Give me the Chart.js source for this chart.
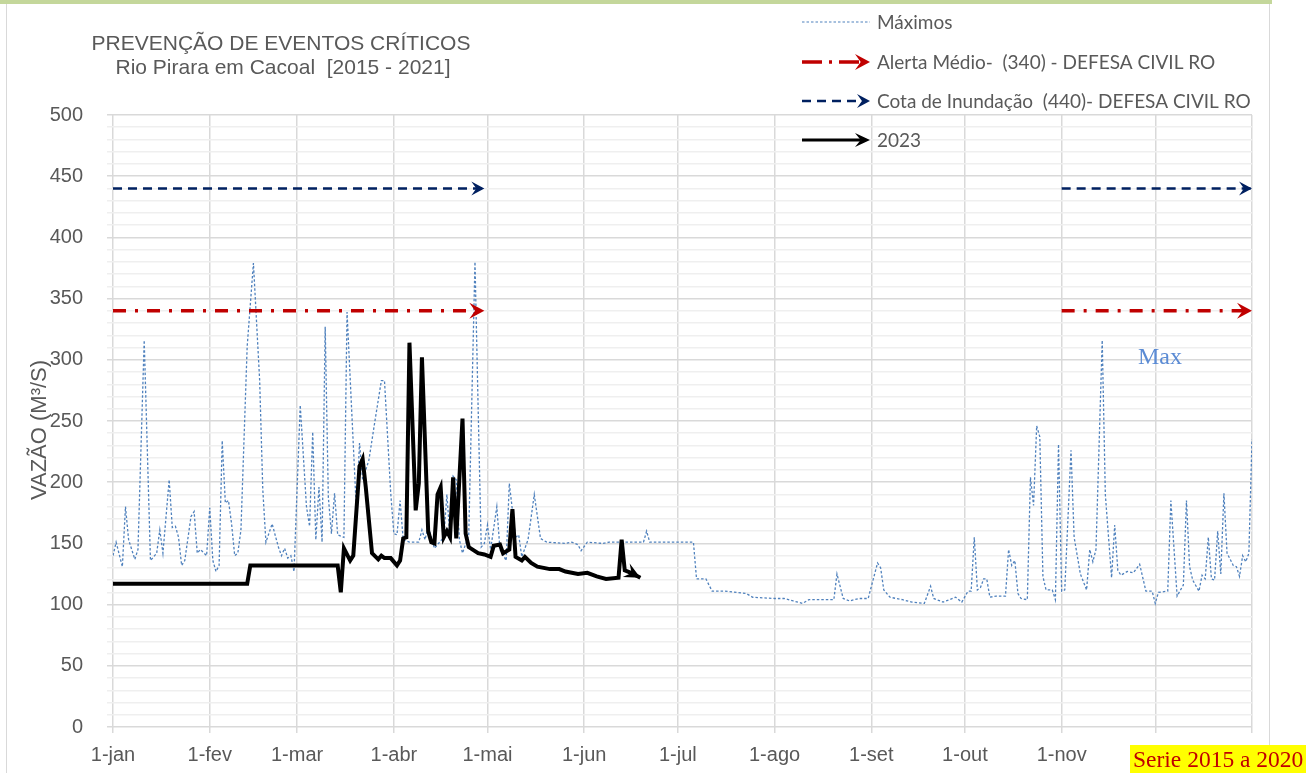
<!DOCTYPE html>
<html><head><meta charset="utf-8">
<script src="https://cdn.jsdelivr.net/npm/chart.js@4.4.1/dist/chart.umd.min.js"></script>
<style>
html,body{margin:0;padding:0;background:#fff;}
#wrap{position:relative;width:1306px;height:773px;overflow:hidden;}
#topbar{position:absolute;left:0;top:0;width:1272px;height:4px;background:#c4d79b;}
#frame{position:absolute;left:6px;top:4px;width:1262px;height:800px;border-left:1.5px solid #d9d9d9;border-right:1.5px solid #d9d9d9;}
canvas{position:absolute;left:0;top:0;}
</style></head><body>
<div id="wrap"><div id="topbar"></div><div id="frame"></div><canvas id="c" width="1306" height="773"></canvas></div>
<script>
// ---- data ----
const monthDays = [0,31,59,90,120,151,181,212,243,273,304,334,365];
const monthLabels = ['1-jan','1-fev','1-mar','1-abr','1-mai','1-jun','1-jul','1-ago','1-set','1-out','1-nov','1-dez',''];

const maxDays = [0,1,3,4,5,7,8,10,12,14,15,16,18,19,20,21,22,23,25,26,27,28,30,31,32,33,34,35,36,37,38,39,40,41,43,45,47,48,49,51,53,54,55,56,57,58,60,62,63,64,65,66,67,68,69,70,71,72,74,75,78,79,80,82,84,86,87,89,90,91,92,93,95,98,99,100,101,103,106,107,108,109,110,111,112,114,116,117,118,119,120,121,123,124,126,127,129,130,131,133,135,137,139,145,147,149,150,152,157,159,170,171,172,186,187,190,192,196,203,205,212,215,218,221,223,231,232,234,236,239,242,245,246,247,249,253,256,260,262,263,266,270,272,274,275,276,277,278,279,280,281,283,286,287,288,289,290,291,293,294,295,296,297,298,299,301,302,303,304,305,307,308,310,312,313,314,315,317,318,320,321,322,323,325,327,329,331,333,334,335,338,339,341,343,344,345,346,348,349,350,351,352,353,354,355,356,357,359,360,361,362,363,364,365];
const maxValues = [140,151,131,180,153,137,145,316,136,142,161,142,202,163,164,155,132,136,172,176,142,145,140,179,136,127,132,234,183,185,166,140,142,161,311,379,283,194,151,166,147,140,146,138,140,127,263,180,164,241,153,196,151,327,188,158,191,157,155,339,177,232,202,218,251,283,283,191,158,157,185,153,151,151,161,153,164,146,155,190,154,205,202,153,142,157,380,262,147,150,165,145,180,145,136,199,155,157,139,153,190,154,151,150,151,149,144,151,150,151,151,160,151,151,121,121,111,111,109,106,105,105,103,101,104,104,125,105,103,105,105,134,130,112,106,104,102,101,115,105,102,106,102,111,111,155,112,114,121,121,106,107,107,145,132,136,109,105,104,204,181,246,237,123,112,112,104,231,111,112,226,155,125,112,145,135,145,316,190,122,165,128,124,127,126,133,111,111,101,110,111,185,107,116,185,131,120,111,124,121,155,121,120,160,125,191,142,132,131,123,140,135,142,235];

const days2023 = [0,43,44,72,73,74,76,77,79,80,81,83,85,86,87,89,91,92,93,94,95,97,98,99,101,102,103,104,105,106,107,108,109,110,112,113,114,117,119,121,122,124,125,127,128,129,131,132,134,136,140,143,145,149,152,155,158,162,163,164,166,169];
const values2023 = [117,117,132,132,110,146,136,140,213,219,196,142,137,140,138,138,132,136,154,155,314,177,199,302,160,151,150,190,196,155,160,155,204,154,252,158,147,142,141,139,148,149,142,145,178,139,136,139,134,131,129,129,127,125,126,123,121,122,153,128,126,122];

const alertLevel = 340;
const floodLevel = 440;
const guideSegments = [[0,119],[304,365]];

// ---- helpers ----
const pts = (xs, ys) => xs.map((x, i) => ({x: x, y: ys[i]}));
const TXT = '#595959';
const SANS = '"Liberation Sans", Arial, sans-serif';
const LEG = 'Lato, "Liberation Sans", sans-serif';
const SERIF = '"Liberation Serif", "Times New Roman", serif';

function drawArrow(ctx, x, y, ang, len, half, color) {
  ctx.save();
  ctx.translate(x, y);
  ctx.rotate(ang);
  ctx.fillStyle = color;
  ctx.beginPath();
  ctx.moveTo(0, 0);
  ctx.lineTo(-len, -half);
  ctx.lineTo(-len * 0.62, 0);
  ctx.lineTo(-len, half);
  ctx.closePath();
  ctx.fill();
  ctx.restore();
}

const datasets = [
  {label: '2023', data: pts(days2023, values2023), borderColor: '#000000', borderWidth: 4, order: 0, arrow: {len: 16, half: 7.5}},
];
guideSegments.forEach(([a, b]) => {
  datasets.push({label: 'Alerta', data: [{x: a, y: alertLevel}, {x: b, y: alertLevel}], borderColor: '#c00000', borderWidth: 3.5, borderDash: [13, 9, 3, 9], order: 1, arrow: {len: 15, half: 8}});
  datasets.push({label: 'Cota', data: [{x: a, y: floodLevel}, {x: b, y: floodLevel}], borderColor: '#002060', borderWidth: 2.5, borderDash: [9, 6], order: 1, arrow: {len: 13, half: 7}});
});
datasets.push({label: 'Máximos', data: pts(maxDays, maxValues), borderColor: '#4f81bd', borderWidth: 1.3, borderDash: [2.5, 2], order: 2});
datasets.forEach(d => { d.pointRadius = 0; d.tension = 0; d.fill = false; });

const arrowPlugin = {
  id: 'arrows',
  afterDatasetsDraw(chart) {
    const ctx = chart.ctx;
    chart.data.datasets.forEach((ds, i) => {
      if (!ds.arrow) return;
      const el = chart.getDatasetMeta(i).data;
      const p1 = el[el.length - 1], p0 = el[el.length - 2];
      const ang = Math.atan2(p1.y - p0.y, p1.x - p0.x);
      drawArrow(ctx, p1.x, p1.y, ang, ds.arrow.len, ds.arrow.half, ds.borderColor);
    });
  }
};

const legendItems = [
  {text: 'Máximos', color: '#4f81bd', width: 1.2, dash: [2.5, 2], arrow: null},
  {text: 'Alerta Médio-  (340) - DEFESA CIVIL RO', color: '#c00000', width: 3.5, dash: [20, 7, 3, 7], arrow: {len: 15, half: 8}},
  {text: 'Cota de Inundação  (440)- DEFESA CIVIL RO', color: '#002060', width: 2.5, dash: [9, 6], arrow: {len: 13, half: 7}},
  {text: '2023', color: '#000000', width: 3, dash: [], arrow: {len: 15, half: 7}}
];
const legendRows = [22, 62, 101, 140];

const textPlugin = {
  id: 'texts',
  afterDraw(chart) {
    const ctx = chart.ctx;
    ctx.save();
    // title
    ctx.fillStyle = TXT;
    ctx.font = '21px ' + SANS;
    ctx.textAlign = 'center';
    ctx.textBaseline = 'middle';
    ctx.fillText('PREVENÇÃO DE EVENTOS CRÍTICOS', 281, 44);
    ctx.fillText('Rio Pirara em Cacoal  [2015 - 2021]', 283, 68);
    // y title
    ctx.save();
    ctx.translate(40, 430);
    ctx.rotate(-Math.PI / 2);
    ctx.font = '22px ' + SANS;
    ctx.fillText('VAZÃO (M³/S)', 0, 0);
    ctx.restore();
    // legend
    legendItems.forEach((it, i) => {
      const y = legendRows[i];
      const x0 = 802, x1 = 870;
      ctx.save();
      ctx.strokeStyle = it.color;
      ctx.lineWidth = it.width;
      ctx.setLineDash(it.dash);
      ctx.beginPath();
      ctx.moveTo(x0, y);
      ctx.lineTo(it.arrow ? x1 - 6 : x1, y);
      ctx.stroke();
      ctx.restore();
      if (it.arrow) drawArrow(ctx, x1, y, 0, it.arrow.len, it.arrow.half, it.color);
      ctx.fillStyle = TXT;
      ctx.font = '19px ' + LEG;
      ctx.textAlign = 'left';
      ctx.textBaseline = 'middle';
      ctx.fillText(it.text, 877, y + 1);
    });
    // Max label
    ctx.fillStyle = '#5b8bd4';
    ctx.font = '24px ' + SERIF;
    ctx.textAlign = 'left';
    ctx.textBaseline = 'middle';
    ctx.fillText('Max', 1138, 358);
    // Serie box
    ctx.fillStyle = '#ffff00';
    ctx.fillRect(1130, 745, 176, 28);
    ctx.fillStyle = '#c00000';
    ctx.font = '23.5px ' + SERIF;
    ctx.textAlign = 'left';
    ctx.textBaseline = 'middle';
    ctx.fillText('Serie 2015 a 2020', 1133, 761);
    ctx.restore();
  }
};

new Chart(document.getElementById('c'), {
  type: 'line',
  data: {datasets: datasets},
  plugins: [arrowPlugin, textPlugin],
  options: {
    responsive: false,
    animation: false,
    events: [],
    layout: {padding: {top: 115, right: 54, left: 0, bottom: 0}},
    plugins: {legend: {display: false}, title: {display: false}, tooltip: {enabled: false}},
    scales: {
      x: {
        type: 'linear', min: 0, max: 365,
        afterBuildTicks: (s) => { s.ticks = monthDays.map(v => ({value: v})); },
        afterFit: (s) => { s.height = 46; },
        ticks: {
          autoSkip: false, maxRotation: 0, minRotation: 0, padding: 10,
          color: TXT, font: {family: SANS, size: 20},
          callback: (v, i) => monthLabels[i]
        },
        grid: {color: '#d9d9d9', lineWidth: 1.5, tickLength: 6, drawTicks: true},
        border: {display: false}
      },
      y: {
        min: 0, max: 500,
        afterFit: (s) => { s.width = 113; },
        ticks: {
          stepSize: 10, autoSkip: false, padding: 24,
          color: TXT, font: {family: SANS, size: 20},
          callback: (v) => (v % 50 === 0 ? String(v) : '')
        },
        grid: {
          color: (c) => (c.tick && c.tick.value % 50 === 0 ? '#d9d9d9' : '#efefef'),
          lineWidth: 1.5, tickLength: 6
        },
        border: {display: false}
      }
    }
  }
});
</script>
</body></html>
